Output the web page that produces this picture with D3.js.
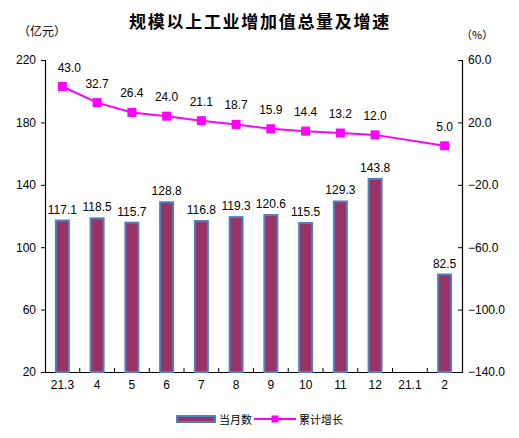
<!DOCTYPE html>
<html>
<head>
<meta charset="utf-8">
<script src="https://cdn.jsdelivr.net/npm/d3@7"></script>
<style>
  body { margin: 0; background: #fff; }
  svg text { font-family: "Liberation Sans", "Noto Sans CJK SC", sans-serif; font-size: 12px; fill: #000; }
  .cjk { font-family: "Noto Sans CJK SC", sans-serif; }
</style>
</head>
<body>
<div id="chart"></div>
<script>
const categories = ["21.3", "4", "5", "6", "7", "8", "9", "10", "11", "12", "21.1", "2"];
const monthValues = [117.1, 118.5, 115.7, 128.8, 116.8, 119.3, 120.6, 115.5, 129.3, 143.8, null, 82.5];
const growthValues = [43.0, 32.7, 26.4, 24.0, 21.1, 18.7, 15.9, 14.4, 13.2, 12.0, null, 5.0];
const leftTicks = [20, 60, 100, 140, 180, 220];
const rightTicks = [-140, -100, -60, -20, 20, 60];
const barName = "当月数";
const lineName = "累计增长";

const width = 519, height = 438;
const margin = {top: 60, right: 57, bottom: 66, left: 45};
const plotW = width - margin.left - margin.right;
const plotH = height - margin.top - margin.bottom;
const barFill = "#993366", barStroke = "#4f81bd", lineColor = "#ff00ff";

const svg = d3.select("#chart").append("svg")
    .attr("width", width)
    .attr("height", height);

// title and units
svg.append("text")
    .attr("class", "cjk")
    .attr("x", 260).attr("y", 28)
    .attr("text-anchor", "middle")
    .style("font-size", "17px")
    .style("font-weight", "bold")
    .style("letter-spacing", "1.7px")
    .text("规模以上工业增加值总量及增速");
svg.append("text").attr("class", "cjk")
    .attr("x", 18).attr("y", 36)
    .style("font-size", "12px")
    .text("（亿元）");
svg.append("text").attr("class", "cjk")
    .attr("x", 461).attr("y", 39)
    .style("font-size", "11px")
    .text("（%）");

const g = svg.append("g")
    .attr("transform", "translate(" + margin.left + "," + margin.top + ")");

// scales
const x = d3.scaleBand().domain(categories).range([0, plotW]);
const yLeft = d3.scaleLinear().domain([20, 220]).range([plotH, 0]);
const yRight = d3.scaleLinear().domain([-140, 60]).range([plotH, 0]);

// left axis
const leftAxis = g.append("g")
    .call(d3.axisLeft(yLeft).tickValues(leftTicks).tickSize(4).tickPadding(5).tickFormat(d3.format("d")));
leftAxis.select(".domain").attr("stroke", "#000").attr("stroke-width", 1.2);
leftAxis.selectAll("text").style("font-size", "12px");

// right axis
const rightAxis = g.append("g")
    .attr("transform", "translate(" + plotW + ",0)")
    .call(d3.axisRight(yRight).tickValues(rightTicks).tickSize(-4).tickPadding(6).tickFormat(d3.format(".1f")));
rightAxis.select(".domain").attr("stroke", "#000").attr("stroke-width", 1.2);
rightAxis.selectAll("text").attr("x", 6).style("font-size", "12px");

// bottom axis
const bottomAxis = g.append("g")
    .attr("transform", "translate(0," + plotH + ")")
    .call(d3.axisBottom(x).tickSize(0).tickPadding(8));
bottomAxis.select(".domain").attr("stroke", "#000").attr("stroke-width", 1.2);
bottomAxis.selectAll("text").style("font-size", "12px");
bottomAxis.selectAll(".sep")
    .data(categories.slice(1))
  .enter().append("line")
    .attr("class", "sep")
    .attr("x1", d => x(d)).attr("x2", d => x(d))
    .attr("y1", 0).attr("y2", -4)
    .attr("stroke", "#000");

// bars
const barW = 13;
const bars = categories.map((c, i) => ({c: c, v: monthValues[i]})).filter(d => d.v != null);
g.selectAll(".bar")
    .data(bars)
  .enter().append("rect")
    .attr("class", "bar")
    .attr("x", d => x(d.c) + x.bandwidth() / 2 - barW / 2)
    .attr("y", d => yLeft(d.v))
    .attr("width", barW)
    .attr("height", d => plotH - yLeft(d.v))
    .attr("fill", barFill)
    .attr("stroke", barStroke)
    .attr("stroke-width", 2);
g.selectAll(".barlabel")
    .data(bars)
  .enter().append("text")
    .attr("class", "barlabel")
    .attr("x", d => x(d.c) + x.bandwidth() / 2)
    .attr("y", d => yLeft(d.v) - 7)
    .attr("text-anchor", "middle")
    .text(d => d.v.toFixed(1));

// line
const pts = categories.map((c, i) => ({c: c, v: growthValues[i]})).filter(d => d.v != null);
const line = d3.line()
    .x(d => x(d.c) + x.bandwidth() / 2)
    .y(d => yRight(d.v));
g.append("path")
    .datum(pts)
    .attr("d", line)
    .attr("fill", "none")
    .attr("stroke", lineColor)
    .attr("stroke-width", 2);
const mk = 9;
g.selectAll(".marker")
    .data(pts)
  .enter().append("rect")
    .attr("class", "marker")
    .attr("x", d => x(d.c) + x.bandwidth() / 2 - mk / 2)
    .attr("y", d => yRight(d.v) - mk / 2)
    .attr("width", mk).attr("height", mk)
    .attr("fill", lineColor);
g.selectAll(".linelabel")
    .data(pts)
  .enter().append("text")
    .attr("class", "linelabel")
    .attr("x", (d, i) => x(d.c) + x.bandwidth() / 2 + (i === 0 ? 7 : 0))
    .attr("y", d => yRight(d.v) - 15)
    .attr("text-anchor", "middle")
    .text(d => d.v.toFixed(1));

// legend
const lg = svg.append("g").attr("transform", "translate(176,419)");
lg.append("rect")
    .attr("x", 1).attr("y", -3).attr("width", 38).attr("height", 6)
    .attr("fill", barFill).attr("stroke", barStroke).attr("stroke-width", 2);
lg.append("text").attr("class", "cjk")
    .attr("x", 43).attr("y", 4.5)
    .style("font-size", "11px")
    .text(barName);
lg.append("line")
    .attr("x1", 78).attr("x2", 120).attr("y1", 0).attr("y2", 0)
    .attr("stroke", lineColor).attr("stroke-width", 2);
lg.append("rect")
    .attr("x", 95.5).attr("y", -3.5).attr("width", 7).attr("height", 7)
    .attr("fill", lineColor);
lg.append("text").attr("class", "cjk")
    .attr("x", 123).attr("y", 4.5)
    .style("font-size", "11px")
    .text(lineName);
</script>
</body>
</html>
